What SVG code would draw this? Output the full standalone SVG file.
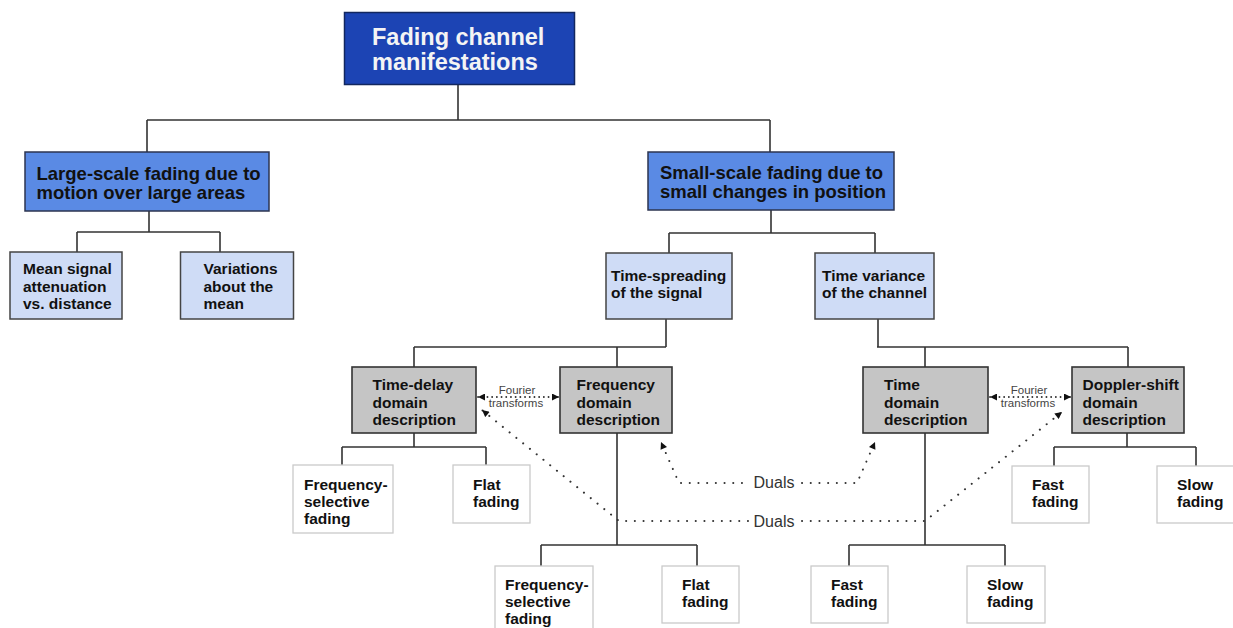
<svg xmlns="http://www.w3.org/2000/svg" width="1233" height="628" viewBox="0 0 1233 628">
<defs>
<style>
text{font-family:"Liberation Sans",Arial,Helvetica,sans-serif;font-weight:bold;fill:#111}
.l1{fill:#1c44b4;stroke:#12275f;stroke-width:1.5}
.l1t{fill:#f4f4f4;font-size:23.5px}
.l2{fill:#5a8ae4;stroke:#2c3550;stroke-width:1.5}
.l2t{font-size:18.5px}
.l3{fill:#cfdcf6;stroke:#444;stroke-width:1.5}
.gr{fill:#c5c5c5;stroke:#333;stroke-width:1.6}
.lf{fill:#fff;stroke:#cacaca;stroke-width:1.3}
.t{font-size:15.5px}
.conn path.tree{fill:none;stroke:#333;stroke-width:1.6}
.dot{fill:none;stroke:#333;stroke-width:2;stroke-linecap:round;stroke-dasharray:0.1 8.6}
.dotf{fill:none;stroke:#333;stroke-width:1.8;stroke-linecap:round;stroke-dasharray:0.1 4.6}
.lab{font-weight:normal;fill:#444;font-size:11.5px}
.dual{font-weight:normal;fill:#333;font-size:16px}
</style>
<marker id="ah" viewBox="0 0 10 10" refX="10" refY="5" markerWidth="8" markerHeight="7" markerUnits="userSpaceOnUse" orient="auto-start-reverse">
<path d="M0 0 L10 5 L0 10 z" fill="#111"/>
</marker>
</defs>
<rect width="1233" height="628" fill="#fff"/>

<g id="connectors" class="conn">
<path class="tree" d="M458 84 V120 M147 120 H770 M147 120 V152 M770 120 V152"/>
<path class="tree" d="M149 211 V232 M77 232 H220 M77 232 V252 M220 232 V252"/>
<path class="tree" d="M771 210 V233 M669 233 H875 M669 233 V253 M875 233 V253"/>
<path class="tree" d="M666 319 V347 M414 347 H666 M414 347 V367 M617 347 V367"/>
<path class="tree" d="M878 319 V347 M877 347 H1128 M925 347 V367 M1128 347 V367"/>
<path class="tree" d="M414 433 V447 M342 447 H486 M342 447 V465 M486 447 V465"/>
<path class="tree" d="M1127 433 V447 M1054 447 H1196 M1054 447 V466 M1196 447 V466"/>
<path class="tree" d="M617 433 V545 M541 545 H697 M541 545 V566 M697 545 V566"/>
<path class="tree" d="M925 433 V545 M849 545 H1005 M849 545 V566 M1005 545 V566"/>
<path class="dotf" d="M478 397 H559" marker-start="url(#ah)" marker-end="url(#ah)"/>
<path class="dotf" d="M990 397 H1071" marker-start="url(#ah)" marker-end="url(#ah)"/>
<path class="dot" d="M748 521 H619 L482 410" marker-end="url(#ah)"/>
<path class="dot" d="M802 521 H925 L1062 412" marker-end="url(#ah)"/>
<path class="dot" d="M742 483 H679 L661 442" marker-end="url(#ah)"/>
<path class="dot" d="M802 483 H857 L875 442" marker-end="url(#ah)"/>
<text class="lab" x="517" y="394" text-anchor="middle">Fourier</text>
<text class="lab" x="516" y="406.5" text-anchor="middle">transforms</text>
<text class="lab" x="1029" y="394" text-anchor="middle">Fourier</text>
<text class="lab" x="1028" y="406.5" text-anchor="middle">transforms</text>
<text class="dual" x="774" y="487.5" text-anchor="middle">Duals</text>
<text class="dual" x="774" y="527" text-anchor="middle">Duals</text>
</g>

<g id="n-root">
<rect class="l1" x="344.5" y="12.5" width="230" height="72"/>
<text class="l1t" x="372" y="45">Fading channel</text>
<text class="l1t" x="372" y="70">manifestations</text>
</g>

<g id="n-large">
<rect class="l2" x="25" y="152" width="244" height="59"/>
<text class="l2t" x="36.5" y="180">Large-scale fading due to</text>
<text class="l2t" x="36.5" y="199">motion over large areas</text>
</g>

<g id="n-small">
<rect class="l2" x="648" y="152" width="246" height="58"/>
<text class="l2t" x="660" y="179">Small-scale fading due to</text>
<text class="l2t" x="660" y="198">small changes in position</text>
</g>

<g id="n-mean">
<rect class="l3" x="10" y="252" width="112" height="67"/>
<text class="t" x="23" y="274">Mean signal</text>
<text class="t" x="23" y="291.5">attenuation</text>
<text class="t" x="23" y="309">vs. distance</text>
</g>

<g id="n-variations">
<rect class="l3" x="180.5" y="252" width="113" height="67"/>
<text class="t" x="203.5" y="274">Variations</text>
<text class="t" x="203.5" y="291.5">about the</text>
<text class="t" x="203.5" y="309">mean</text>
</g>

<g id="n-timespread">
<rect class="l3" x="606" y="253" width="126" height="66"/>
<text class="t" x="611" y="281">Time-spreading</text>
<text class="t" x="611" y="298">of the signal</text>
</g>

<g id="n-timevar">
<rect class="l3" x="815" y="253" width="119" height="66"/>
<text class="t" x="822" y="281">Time variance</text>
<text class="t" x="822" y="298">of the channel</text>
</g>

<g id="n-timedelay">
<rect class="gr" x="352" y="367" width="124" height="66"/>
<text class="t" x="372.5" y="390">Time-delay</text>
<text class="t" x="372.5" y="407.5">domain</text>
<text class="t" x="372.5" y="425">description</text>
</g>

<g id="n-freqdomain">
<rect class="gr" x="560" y="367" width="112" height="66"/>
<text class="t" x="576.5" y="390">Frequency</text>
<text class="t" x="576.5" y="407.5">domain</text>
<text class="t" x="576.5" y="425">description</text>
</g>

<g id="n-timedomain">
<rect class="gr" x="863" y="367" width="125" height="66"/>
<text class="t" x="884" y="390">Time</text>
<text class="t" x="884" y="407.5">domain</text>
<text class="t" x="884" y="425">description</text>
</g>

<g id="n-doppler">
<rect class="gr" x="1072" y="367" width="112" height="66"/>
<text class="t" x="1082.5" y="390">Doppler-shift</text>
<text class="t" x="1082.5" y="407.5">domain</text>
<text class="t" x="1082.5" y="425">description</text>
</g>

<g id="n-fsel1">
<rect class="lf" x="293" y="465" width="100" height="68"/>
<text class="t" x="304" y="490">Frequency-</text>
<text class="t" x="304" y="507">selective</text>
<text class="t" x="304" y="524">fading</text>
</g>

<g id="n-flat1">
<rect class="lf" x="453" y="465" width="77" height="58"/>
<text class="t" x="473" y="490">Flat</text>
<text class="t" x="473" y="507">fading</text>
</g>

<g id="n-fast1">
<rect class="lf" x="1012" y="466" width="77" height="57"/>
<text class="t" x="1032" y="490">Fast</text>
<text class="t" x="1032" y="507">fading</text>
</g>

<g id="n-slow1">
<rect class="lf" x="1157" y="466" width="80" height="57"/>
<text class="t" x="1177" y="490">Slow</text>
<text class="t" x="1177" y="507">fading</text>
</g>

<g id="n-fsel2">
<rect class="lf" x="495" y="566" width="98" height="70"/>
<text class="t" x="505" y="590">Frequency-</text>
<text class="t" x="505" y="607">selective</text>
<text class="t" x="505" y="624">fading</text>
</g>

<g id="n-flat2">
<rect class="lf" x="662" y="566" width="77" height="57"/>
<text class="t" x="682" y="590">Flat</text>
<text class="t" x="682" y="607">fading</text>
</g>

<g id="n-fast2">
<rect class="lf" x="811" y="566" width="77" height="57"/>
<text class="t" x="831" y="590">Fast</text>
<text class="t" x="831" y="607">fading</text>
</g>

<g id="n-slow2">
<rect class="lf" x="967" y="566" width="78" height="57"/>
<text class="t" x="987" y="590">Slow</text>
<text class="t" x="987" y="607">fading</text>
</g>
</svg>
